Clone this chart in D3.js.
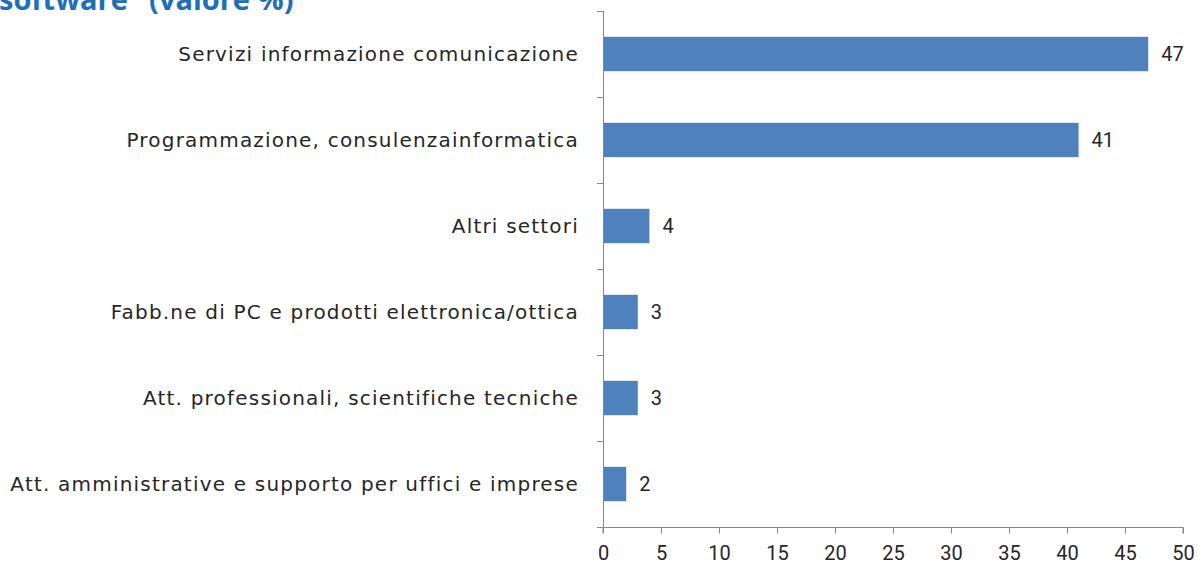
<!DOCTYPE html>
<html>
<head>
<meta charset="utf-8">
<script src="https://cdn.jsdelivr.net/npm/d3@7"></script>
<style>
  body { margin: 0; background: #fff; }
  svg { display: block; }
</style>
</head>
<body>
<svg id="chart" width="1203" height="569"></svg>
<script>
// dati
var categorie = [
  'Servizi informazione comunicazione',
  'Programmazione, consulenzainformatica',
  'Altri settori',
  'Fabb.ne di PC e prodotti elettronica/ottica',
  'Att. professionali, scientifiche tecniche',
  'Att. amministrative e supporto per uffici e imprese'
]
var valori = [47, 41, 4, 3, 3, 2]
var tickX = [0, 5, 10, 15, 20, 25, 30, 35, 40, 45, 50]
var titolo = 'software" (valore %)'

var svg = d3.select('#chart')
var pLeft = 603, pRight = 1183, pTop = 11, pBottom = 527
var axisColor = '#868686'

var x = d3.scaleLinear().domain([0, 50]).range([pLeft, pRight])
var y = d3.scaleBand().domain(categorie).range([pTop, pBottom]).paddingInner(0.6).paddingOuter(0.3)

// titolo (tagliato in alto)
svg.append('text')
  .attr('x', -1).attr('y', 10)
  .attr('font-family', 'Open Sans, sans-serif')
  .attr('font-weight', 'bold')
  .attr('font-size', 29)
  .attr('fill', '#1F6FB7')
  .text(titolo)

// barre
svg.selectAll('rect.bar')
  .data(valori)
  .enter()
  .append('rect')
  .attr('class', 'bar')
  .attr('x', x(0))
  .attr('y', function(d, i) { return y(categorie[i]) })
  .attr('width', function(d) { return x(d) - x(0) })
  .attr('height', y.bandwidth())
  .attr('fill', '#4F81BD')

// etichette valore
svg.selectAll('text.val')
  .data(valori)
  .enter()
  .append('text')
  .attr('class', 'val')
  .attr('x', function(d) { return x(d) + 13 })
  .attr('y', function(d, i) { return y(categorie[i]) + y.bandwidth() / 2 })
  .attr('dy', '0.35em')
  .attr('font-family', 'Liberation Sans Narrow, Roboto, sans-serif')
  .attr('font-size', 20)
  .attr('fill', '#262626')
  .text(function(d) { return d })

// asse y
var yAxis = svg.append('g').attr('transform', 'translate(' + pLeft + ',0)')
yAxis.append('line')
  .attr('x1', 0.5).attr('x2', 0.5).attr('y1', pTop).attr('y2', pBottom)
  .attr('stroke', axisColor)
var bordi = d3.range(categorie.length + 1).map(function(i) { return pTop + i * (pBottom - pTop) / categorie.length })
yAxis.selectAll('line.tk')
  .data(bordi)
  .enter()
  .append('line')
  .attr('class', 'tk')
  .attr('x1', -6).attr('x2', 0.5)
  .attr('y1', function(d) { return Math.round(d) + 0.5 })
  .attr('y2', function(d) { return Math.round(d) + 0.5 })
  .attr('stroke', axisColor)
yAxis.selectAll('text.cat')
  .data(categorie)
  .enter()
  .append('text')
  .attr('class', 'cat')
  .attr('x', -24)
  .attr('y', function(d) { return y(d) + y.bandwidth() / 2 })
  .attr('dy', '0.35em')
  .attr('text-anchor', 'end')
  .attr('font-family', 'DejaVu Sans, sans-serif')
  .attr('font-size', 20)
  .attr('letter-spacing', 1.2)
  .attr('fill', '#262626')
  .text(function(d) { return d })

// asse x
var xAxis = svg.append('g').attr('transform', 'translate(0,' + (pBottom + 0.5) + ')')
  .call(d3.axisBottom(x).tickValues(tickX).tickSize(6).tickPadding(12))
xAxis.select('.domain').attr('stroke', axisColor).attr('d', 'M' + pLeft + ',6V0H' + pRight + 'V6')
xAxis.selectAll('.tick line').attr('stroke', axisColor)
xAxis.selectAll('.tick text')
  .attr('font-family', 'Liberation Sans Narrow, Roboto, sans-serif')
  .attr('font-size', 20)
  .attr('fill', '#262626')
</script>
</body>
</html>
